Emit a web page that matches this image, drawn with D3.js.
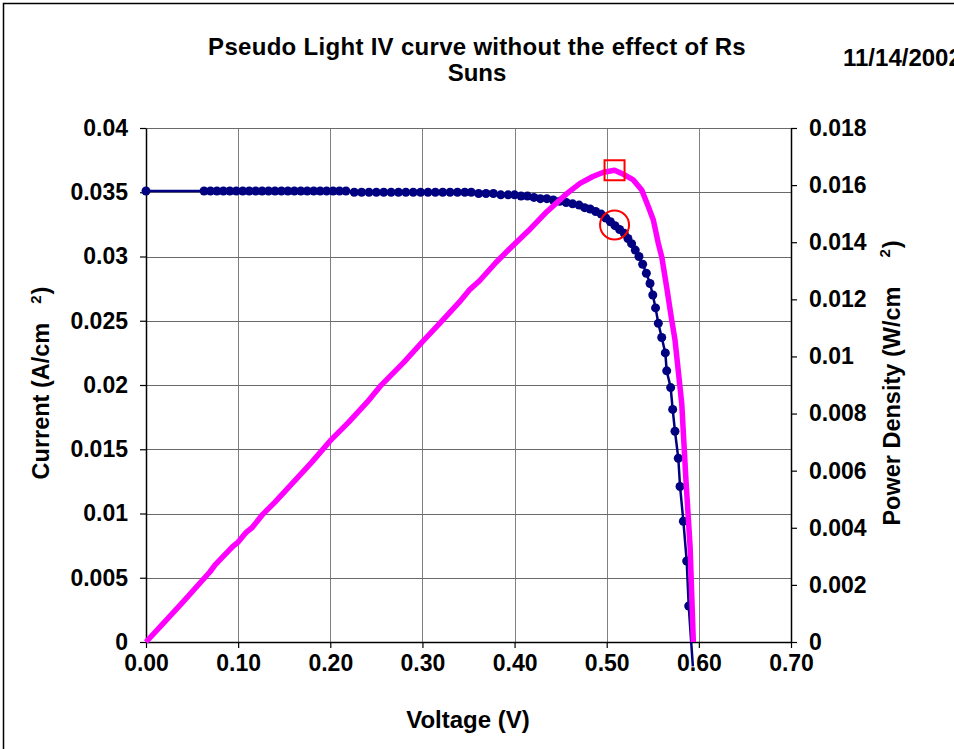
<!DOCTYPE html>
<html>
<head>
<meta charset="utf-8">
<script src="https://cdn.jsdelivr.net/npm/d3@7"></script>
<style>
  body { margin: 0; background: #fff; }
  svg { display: block; font-family: Arial, "Liberation Sans", sans-serif; font-weight: bold; }
</style>
</head>
<body>
<svg id="chart" width="954" height="749"></svg>
<script>
// current density curve (A/cm2)
const voltage = [0.000,
  0.063, 0.070, 0.077, 0.084, 0.091, 0.098, 0.105, 0.112, 0.119, 0.126, 0.133, 0.140,
  0.147, 0.154, 0.161, 0.168, 0.175, 0.182, 0.189, 0.196, 0.203, 0.210, 0.217,
  0.226, 0.234, 0.242, 0.250, 0.258, 0.266, 0.274, 0.282, 0.290, 0.298, 0.306, 0.314,
  0.322, 0.330, 0.338, 0.346, 0.353,
  0.361, 0.369, 0.377, 0.385, 0.393, 0.400, 0.407, 0.414, 0.421, 0.428, 0.435, 0.442,
  0.449, 0.456, 0.463, 0.470, 0.476, 0.482, 0.488, 0.494, 0.499, 0.504, 0.509, 0.514,
  0.519, 0.523, 0.527, 0.531, 0.535, 0.539, 0.543, 0.547, 0.550, 0.553, 0.556, 0.5597,
  0.5636, 0.5651, 0.5694, 0.5716, 0.5741, 0.5777, 0.5796, 0.5832, 0.5868, 0.5890, 0.5935]
const current = [0.0351,
  0.0351, 0.0351, 0.0351, 0.0351, 0.0351, 0.0351, 0.0351, 0.0351, 0.0351, 0.0351, 0.0351, 0.0351,
  0.0351, 0.0351, 0.0351, 0.0351, 0.0351, 0.0351, 0.0351, 0.0351, 0.0351, 0.0351, 0.0351,
  0.0350, 0.0350, 0.0350, 0.0350, 0.0350, 0.0350, 0.0350, 0.0350, 0.0350, 0.0350, 0.0350, 0.0350,
  0.0350, 0.0350, 0.0350, 0.0350, 0.0350,
  0.0349, 0.0349, 0.0349, 0.0348, 0.0348, 0.0348, 0.0347, 0.0347, 0.0346, 0.0345, 0.0345, 0.0344,
  0.0343, 0.0342, 0.0341, 0.0340, 0.0338, 0.0337, 0.0335, 0.0333, 0.0330, 0.0327, 0.0324, 0.0321,
  0.0318, 0.0314, 0.0310, 0.0305, 0.0300, 0.0294, 0.0287, 0.0279, 0.0270, 0.0260, 0.0248, 0.0237,
  0.0225, 0.0211, 0.0198, 0.0181, 0.0164, 0.0143, 0.0121, 0.0094, 0.0063, 0.0028, -0.0019]

// power density curve (W/cm2)
const powerV = [0, 0.02, 0.04, 0.0695, 0.075, 0.094, 0.100, 0.109, 0.115, 0.127, 0.14, 0.16,
  0.18, 0.20, 0.22, 0.24, 0.254, 0.28, 0.301, 0.32, 0.34, 0.3516, 0.362, 0.38, 0.395, 0.415,
  0.435, 0.457, 0.471, 0.485, 0.4965, 0.5085, 0.5163, 0.5289, 0.538, 0.5452, 0.5506, 0.556,
  0.5597, 0.565, 0.5705, 0.5741, 0.5814, 0.586, 0.5905, 0.594]
const powerP = [0, 0.0007, 0.0014, 0.00246, 0.0027, 0.00334, 0.0035, 0.00385, 0.0040, 0.00448, 0.0049, 0.0056,
  0.0063, 0.00705, 0.0077, 0.0084, 0.00895, 0.0098, 0.01055, 0.0112, 0.0119, 0.01235, 0.01265, 0.0133, 0.01378, 0.0144,
  0.01507, 0.01571, 0.01606, 0.0163, 0.01645, 0.01652, 0.01641, 0.01618, 0.01583, 0.01524, 0.01478, 0.01396,
  0.01349, 0.01244, 0.01128, 0.01058, 0.00836, 0.00567, 0.00334, 0]

// max power point
const mpp = { v: 0.5085, i: 0.03245, p: 0.01652 }

const xTicks = [0, 0.1, 0.2, 0.3, 0.4, 0.5, 0.6, 0.7]
const leftTicks = [0, 0.005, 0.01, 0.015, 0.02, 0.025, 0.03, 0.035, 0.04]
const leftTickLabels = ["0", "0.005", "0.01", "0.015", "0.02", "0.025", "0.03", "0.035", "0.04"]
const rightTicks = [0, 0.002, 0.004, 0.006, 0.008, 0.01, 0.012, 0.014, 0.016, 0.018]
const rightTickLabels = ["0", "0.002", "0.004", "0.006", "0.008", "0.01", "0.012", "0.014", "0.016", "0.018"]

const svg = d3.select('#chart')
const plotLeft = 146, plotRight = 791, plotTop = 128, plotBottom = 642

const x = d3.scaleLinear().domain([0, 0.7]).range([plotLeft, plotRight])
const yL = d3.scaleLinear().domain([0, 0.04]).range([plotBottom, plotTop])
const yR = d3.scaleLinear().domain([0, 0.018]).range([plotBottom, plotTop])

// outer frame
svg.append('rect')
    .attr('x', 3.5).attr('y', 3.5)
    .attr('width', 970).attr('height', 770)
    .attr('fill', 'none').attr('stroke', '#000').attr('stroke-width', 1.5)

// grid
svg.append('g').selectAll('line')
    .data(xTicks.slice(1, -1))
    .join('line')
    .attr('x1', d => Math.round(x(d)) + 0.5).attr('x2', d => Math.round(x(d)) + 0.5)
    .attr('y1', plotTop).attr('y2', plotBottom)
    .attr('stroke', '#808080')
svg.append('g').selectAll('line')
    .data(leftTicks.slice(1))
    .join('line')
    .attr('x1', plotLeft).attr('x2', plotRight)
    .attr('y1', d => Math.round(yL(d)) + 0.5).attr('y2', d => Math.round(yL(d)) + 0.5)
    .attr('stroke', '#6a6a6a')

// axes
function styleAxis(g) {
    g.selectAll('.domain').attr('stroke', '#000').attr('stroke-width', 1.5)
    g.selectAll('.tick line').attr('stroke', '#000').attr('stroke-width', 1.2)
    g.selectAll('.tick text')
        .attr('fill', '#000')
        .attr('font-size', 23)
        .attr('font-weight', 'bold')
        .attr('font-family', 'Arial, "Liberation Sans", sans-serif')
}

svg.append('g')
    .attr('transform', `translate(0,${plotBottom})`)
    .call(d3.axisBottom(x).tickValues(xTicks).tickFormat(d3.format('.2f')).tickSize(6).tickPadding(7).tickSizeOuter(0))
    .call(styleAxis)

svg.append('g')
    .attr('transform', `translate(${plotLeft},0)`)
    .call(d3.axisLeft(yL).tickValues(leftTicks).tickFormat((d, i) => leftTickLabels[i]).tickSize(6).tickPadding(12).tickSizeOuter(0))
    .call(styleAxis)

svg.append('g')
    .attr('transform', `translate(${plotRight},0)`)
    .call(d3.axisRight(yR).tickValues(rightTicks).tickFormat((d, i) => rightTickLabels[i]).tickSize(6).tickPadding(12).tickSizeOuter(0))
    .call(styleAxis)

// IV curve
const ivData = voltage.map((v, i) => ({ v: v, i: current[i] }))
const ivLine = d3.line().x(d => x(d.v)).y(d => yL(d.i))
svg.append('path')
    .datum(ivData)
    .attr('d', ivLine)
    .attr('fill', 'none')
    .attr('stroke', '#000080')
    .attr('stroke-width', 2.5)
svg.append('g').selectAll('circle')
    .data(ivData.filter(d => d.i > 0))
    .join('circle')
    .attr('cx', d => x(d.v))
    .attr('cy', d => yL(d.i))
    .attr('r', 4.5)
    .attr('fill', '#000080')

// power curve
const pData = powerV.map((v, i) => ({ v: v, p: powerP[i] }))
const pLine = d3.line().x(d => x(d.v)).y(d => yR(d.p))
svg.append('path')
    .datum(pData)
    .attr('d', pLine)
    .attr('fill', 'none')
    .attr('stroke', '#ff00ff')
    .attr('stroke-width', 5.5)
    .attr('stroke-linejoin', 'round')

// max power markers
svg.append('rect')
    .attr('x', x(mpp.v) - 10).attr('y', yR(mpp.p) - 10)
    .attr('width', 20).attr('height', 20)
    .attr('fill', 'none').attr('stroke', '#ff0000').attr('stroke-width', 2)
svg.append('circle')
    .attr('cx', x(mpp.v)).attr('cy', yL(mpp.i))
    .attr('r', 14.5)
    .attr('fill', 'none').attr('stroke', '#ff0000').attr('stroke-width', 2)

// titles
svg.append('text')
    .attr('x', 477).attr('y', 55)
    .attr('text-anchor', 'middle')
    .attr('font-size', 24)
    .style('letter-spacing', '0.3px')
    .text('Pseudo Light IV curve without the effect of Rs')
svg.append('text')
    .attr('x', 477).attr('y', 81)
    .attr('text-anchor', 'middle')
    .attr('font-size', 24)
    .text('Suns')
svg.append('text')
    .attr('x', 843).attr('y', 66)
    .attr('font-size', 24)
    .text('11/14/2002')

svg.append('text')
    .attr('x', 468).attr('y', 728)
    .attr('text-anchor', 'middle')
    .attr('font-size', 24)
    .text('Voltage (V)')

const yTitleL = svg.append('text')
    .attr('transform', 'translate(49,383) rotate(-90)')
    .attr('text-anchor', 'middle')
    .attr('font-size', 23.5)
yTitleL.append('tspan').text('Current (A/cm')
yTitleL.append('tspan').attr('dx', 19).attr('dy', -8).attr('font-size', 15).text('2')
yTitleL.append('tspan').attr('dx', 1).attr('dy', 8).text(')')

const yTitleR = svg.append('text')
    .attr('transform', 'translate(900,383) rotate(-90)')
    .attr('text-anchor', 'middle')
    .attr('font-size', 23.5)
yTitleR.append('tspan').text('Power Density (W/cm')
yTitleR.append('tspan').attr('dx', 29).attr('dy', -10).attr('font-size', 15).text('2')
yTitleR.append('tspan').attr('dx', 1).attr('dy', 10).text(')')
</script>
</body>
</html>
